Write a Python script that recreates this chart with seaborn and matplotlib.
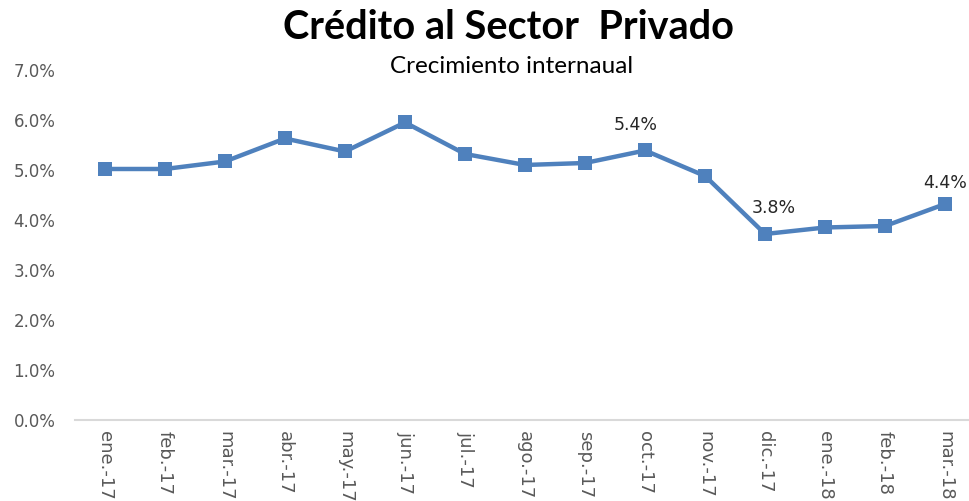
import numpy as np
import pandas as pd
import matplotlib
matplotlib.use("Agg")
import matplotlib.pyplot as plt
import seaborn as sns

meses = ["ene.-17", "feb.-17", "mar.-17", "abr.-17", "may.-17", "jun.-17", "jul.-17",
         "ago.-17", "sep.-17", "oct.-17", "nov.-17", "dic.-17", "ene.-18", "feb.-18", "mar.-18"]
crecimiento = [5.02, 5.02, 5.17, 5.63, 5.37, 5.95, 5.32, 5.10, 5.14, 5.39, 4.88, 3.72, 3.85, 3.88, 4.32]
etiquetas_idx = [9, 11, 14]
etiquetas_txt = ["5.4%", "3.8%", "4.4%"]
y_ticks = [0, 1, 2, 3, 4, 5, 6, 7]

sns.set_theme(style="white")
plt.rcParams['font.family'] = ['DejaVu Sans']

df = pd.DataFrame({"pos": np.arange(len(meses)), "valor": crecimiento})

fig = plt.figure(figsize=(9.7, 5.01), dpi=100)
ax = fig.add_axes([0.0773, 0.1617, 0.928, 0.6986])

color = "#4F81BD"
sns.lineplot(data=df, x="pos", y="valor", ax=ax, color=color, linewidth=3.2,
             marker="s", markersize=9.5, markeredgewidth=0, sort=False)

ax.set_xlim(-0.5, len(meses) - 0.5)
ax.set_ylim(0, 7)
ax.set_yticks(y_ticks)
ax.set_yticklabels([f"{v:.1f}%" for v in y_ticks], fontsize=12, color="#595959")
ax.set_xticks(df["pos"])
ax.set_xticklabels(meses, rotation=270, fontsize=13, color="#595959", va="top", ha="center")
ax.tick_params(axis="both", length=0)
ax.tick_params(axis="x", pad=8)
ax.tick_params(axis="y", pad=14)
ax.set_xlabel("")
ax.set_ylabel("")
for s in ["top", "right", "left"]:
    ax.spines[s].set_visible(False)
ax.spines["bottom"].set_color("#D9D9D9")
ax.spines["bottom"].set_linewidth(1.5)
ax.grid(False)

offsets = {9: (-7, 18), 11: (6, 18.5), 14: (0, 15)}
for i, t in zip(etiquetas_idx, etiquetas_txt):
    ax.annotate(t, xy=(i, crecimiento[i]), xytext=offsets[i], textcoords="offset points",
                ha="center", va="center", fontsize=12.5, color="#262626")

fig.text(0.524, 0.946, "Crédito al Sector  Privado", ha="center", va="center",
         fontsize=28.5, fontweight="bold", family=["Lato", "DejaVu Sans"], color="black")
fig.text(0.527, 0.868, "Crecimiento internaual", ha="center", va="center",
         fontsize=17.5, family=["Lato", "DejaVu Sans"], color="black")

fig.savefig("out.png", dpi=100)
